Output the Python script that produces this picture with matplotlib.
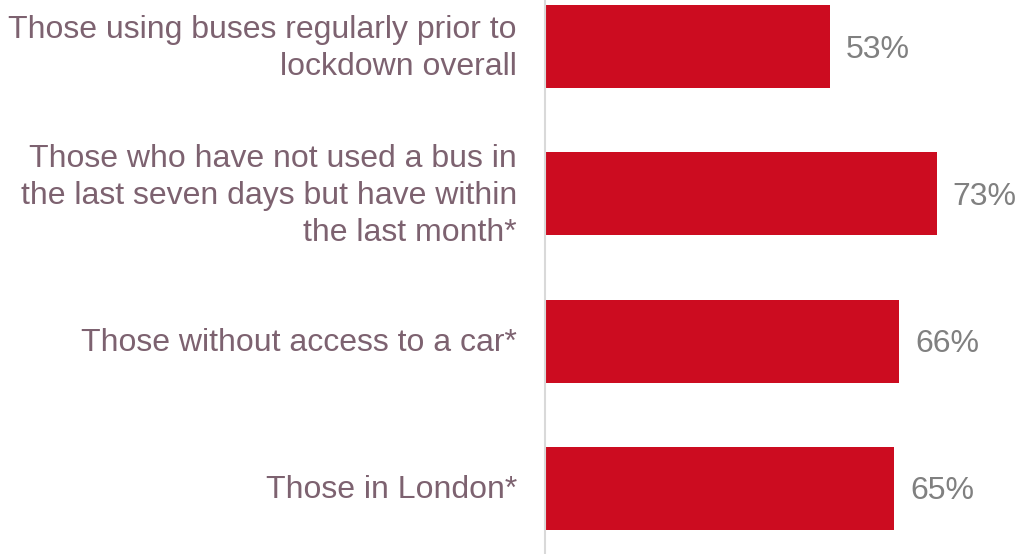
import matplotlib
matplotlib.use("Agg")
import matplotlib.pyplot as plt
from matplotlib.transforms import blended_transform_factory, offset_copy

categories = [
    "Those using buses regularly prior to\nlockdown overall",
    "Those who have not used a bus in\nthe last seven days but have within\nthe last month*",
    "Those without access to a car*",
    "Those in London*",
]
values = [53, 73, 66, 65]

plt.rcParams['font.family'] = ['Liberation Sans', 'DejaVu Sans']

fig = plt.figure(figsize=(10.19, 5.54), dpi=100)
ax = fig.add_axes([545 / 1019, 0, 1 - 545 / 1019, 1])

ypos = list(range(len(values)))
ax.barh(ypos, values, height=0.563, color="#CC0C20", zorder=2)
ax.set_xlim(0, 88.3)
ax.set_ylim(3.445, -0.316)

for s in ["top", "right", "bottom"]:
    ax.spines[s].set_visible(False)
ax.spines["left"].set_color("#D9D9D9")
ax.spines["left"].set_linewidth(1.5)
ax.set_xticks([])
ax.set_yticks([])

val_tr = offset_copy(ax.transData, fig=fig, x=16, y=-3, units="dots")
for y, v in zip(ypos, values):
    ax.text(v, y, f"{v}%", transform=val_tr, ha="left", va="center",
            fontsize=23, color="#808080")

lab_tr = offset_copy(blended_transform_factory(ax.transAxes, ax.transData),
                     fig=fig, x=-28, y=-2, units="dots")
for y, c in zip(ypos, categories):
    ax.text(0, y, c, transform=lab_tr, ha="right", va="center",
            fontsize=23, color="#7D6270", multialignment="right",
            linespacing=1.3)

fig.savefig("out.png", dpi=100)
